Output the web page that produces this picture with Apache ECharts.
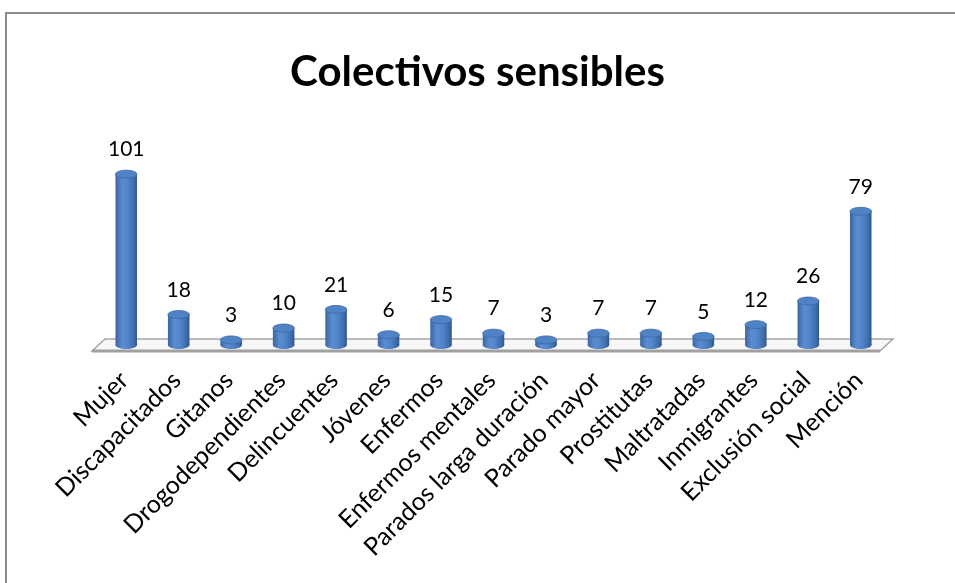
<!DOCTYPE html>
<html>
<head>
<meta charset="utf-8">
<script src="https://cdn.jsdelivr.net/npm/echarts@6/dist/echarts.min.js"></script>
<style>
html,body{margin:0;padding:0;background:#fff;}
#c{width:955px;height:583px;}
</style>
</head>
<body>
<div id="c"></div>
<script>
var titleText = 'Colectivos sensibles';
var categories = ['Mujer','Discapacitados','Gitanos','Drogodependientes','Delincuentes','Jóvenes','Enfermos','Enfermos mentales','Parados larga duración','Parado mayor','Prostitutas','Maltratadas','Inmigrantes','Exclusión social','Mención'];
var values = [101,18,3,10,21,6,15,7,3,7,7,5,12,26,79];

var FONT = 'Lato, "Open Sans", sans-serif';
var chart = echarts.init(document.getElementById('c'));

function cylinder(params, api) {
  var idx = api.value(0);
  var v = api.value(1);
  var base = api.coord([idx, 0]);
  var top = api.coord([idx, v]);
  var bw = api.size([1, 0])[0];
  var w = bw * 0.41;
  var x0 = base[0] - w / 2;
  var ry = 4;
  var grad = new echarts.graphic.LinearGradient(0, 0, 1, 0, [
    {offset: 0, color: '#3a65a3'},
    {offset: 0.3, color: '#5a8cd0'},
    {offset: 0.55, color: '#5286cb'},
    {offset: 0.85, color: '#3f6dac'},
    {offset: 1, color: '#2e5690'}
  ]);
  return {
    type: 'group',
    children: [
      {type: 'ellipse', shape: {cx: base[0], cy: base[1], rx: w / 2, ry: ry}, style: {fill: grad}},
      {type: 'rect', shape: {x: x0, y: top[1], width: w, height: Math.max(base[1] - top[1], 0)}, style: {fill: grad}},
      {type: 'ellipse', shape: {cx: top[0], cy: top[1], rx: w / 2, ry: ry}, style: {fill: '#4f83c6', stroke: '#3c69a6', lineWidth: 0.8}},
      {type: 'text', style: {text: String(v), x: top[0], y: top[1] - ry - 10, align: 'center', verticalAlign: 'bottom', fontSize: 21, fontFamily: FONT, fill: '#000'}}
    ]
  };
}

function floor(params, api) {
  var n = categories.length;
  var bw = api.size([1, 0])[0];
  var a = api.coord([0, 0]);
  var b = api.coord([n - 1, 0]);
  var L = a[0] - bw / 2, R = b[0] + bw / 2, y = a[1];
  return {
    type: 'group',
    children: [
      {type: 'polygon', shape: {points: [[L - 8, y + 6], [L + 5, y - 6], [R + 6, y - 6], [R - 7, y + 6]]},
        style: {fill: '#f7f7f7', stroke: '#a6a6a6', lineWidth: 1.5}},
      {type: 'line', shape: {x1: L - 8, y1: y + 6, x2: R - 7, y2: y + 6}, style: {stroke: '#a0a0a0', lineWidth: 3}}
    ]
  };
}

chart.setOption({
  animation: false,
  backgroundColor: '#fff',
  title: {text: titleText, left: 'center', top: 46, textStyle: {fontSize: 42, fontWeight: 'bold', fontFamily: FONT, color: '#000'}},
  graphic: [{type: 'rect', shape: {x: 6, y: 13, width: 1000, height: 1000}, style: {fill: 'none', stroke: '#8c8c8c', lineWidth: 2}, silent: true, z: -10}],
  grid: {left: 100, right: 68, top: 142, bottom: 238},
  xAxis: {
    type: 'category', data: categories,
    axisLine: {show: false}, axisTick: {show: false},
    axisLabel: {rotate: 45, interval: 0, margin: 29, fontSize: 25, fontFamily: FONT, color: '#000', padding: [0, 3, 0, 0]}
  },
  yAxis: {type: 'value', min: 0, max: 120, show: false, splitLine: {show: false}},
  series: [
    {type: 'custom', renderItem: floor, data: [[0, 0]], z: 1, silent: true},
    {type: 'custom', renderItem: cylinder, data: values.map(function (v, i) { return [i, v]; }), encode: {x: 0, y: 1}, z: 2}
  ]
});
</script>
</body>
</html>
